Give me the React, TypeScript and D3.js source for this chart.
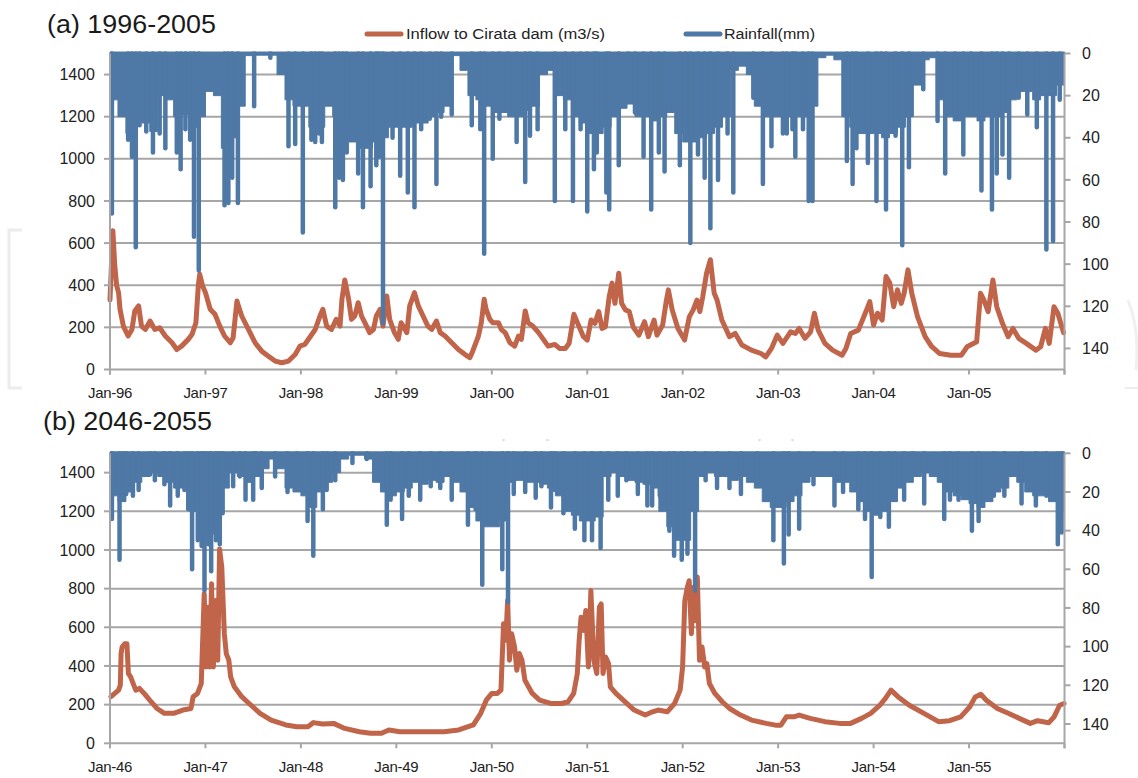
import React from 'react';
import * as d3 from 'd3';

// ---------- DATA ----------
const yearTicksA = [1996, 1997, 1998, 1999, 2000, 2001, 2002, 2003, 2004, 2005];
const yearTicksB = [2046, 2047, 2048, 2049, 2050, 2051, 2052, 2053, 2054, 2055];
const leftTicks = [0, 200, 400, 600, 800, 1000, 1200, 1400];
const rightTicks = [0, 20, 40, 60, 80, 100, 120, 140];

// Inflow to Cirata dam (m3/s), [decimal year, value]
const inflowA: [number, number][] = [
  [1996.0, 330], [1996.03, 659], [1996.05, 492], [1996.07, 397], [1996.09, 365], [1996.105, 286], [1996.14, 206],
  [1996.19, 159], [1996.23, 190], [1996.26, 278], [1996.3, 302], [1996.33, 206], [1996.37, 190], [1996.42, 230],
  [1996.47, 190], [1996.52, 198], [1996.58, 159], [1996.65, 127], [1996.7, 95], [1996.75, 111], [1996.82, 143],
  [1996.86, 167], [1996.9, 222], [1996.925, 397], [1996.94, 452], [1996.97, 397], [1997.0, 365], [1997.05, 286],
  [1997.1, 262], [1997.15, 206], [1997.2, 159], [1997.26, 127], [1997.29, 151], [1997.33, 325], [1997.345, 302],
  [1997.38, 254], [1997.45, 190], [1997.52, 127], [1997.59, 87], [1997.66, 63], [1997.73, 40], [1997.8, 32],
  [1997.87, 40], [1997.94, 71], [1997.99, 111], [1998.04, 119], [1998.09, 151], [1998.15, 190], [1998.2, 254],
  [1998.23, 286], [1998.27, 206], [1998.32, 190], [1998.37, 238], [1998.41, 206], [1998.43, 333], [1998.46, 425],
  [1998.5, 333], [1998.53, 238], [1998.565, 254], [1998.6, 317], [1998.635, 254], [1998.67, 222], [1998.72, 175],
  [1998.76, 190], [1998.79, 254], [1998.83, 286], [1998.86, 206], [1998.9, 349], [1998.93, 238], [1998.98, 175],
  [1999.02, 143], [1999.05, 222], [1999.11, 175], [1999.14, 302], [1999.19, 365], [1999.23, 302], [1999.28, 254],
  [1999.33, 206], [1999.37, 190], [1999.42, 230], [1999.46, 175], [1999.51, 159], [1999.58, 127], [1999.65, 95],
  [1999.72, 71], [1999.77, 56], [1999.8, 87], [1999.86, 159], [1999.89, 222], [1999.92, 333], [1999.94, 286],
  [1999.98, 238], [2000.01, 222], [2000.07, 222], [2000.1, 190], [2000.14, 175], [2000.19, 127], [2000.24, 111],
  [2000.28, 159], [2000.31, 143], [2000.35, 278], [2000.38, 222], [2000.43, 206], [2000.49, 175], [2000.54, 143],
  [2000.59, 111], [2000.66, 119], [2000.71, 100], [2000.77, 100], [2000.81, 124], [2000.86, 262], [2000.9, 219],
  [2000.96, 156], [2001.0, 140], [2001.04, 235], [2001.08, 219], [2001.12, 275], [2001.155, 195], [2001.19, 203],
  [2001.23, 346], [2001.26, 410], [2001.29, 314], [2001.33, 457], [2001.36, 314], [2001.4, 283], [2001.44, 275],
  [2001.48, 203], [2001.54, 163], [2001.6, 227], [2001.64, 156], [2001.7, 235], [2001.73, 163], [2001.79, 211],
  [2001.83, 330], [2001.85, 378], [2001.89, 283], [2001.95, 195], [2002.02, 140], [2002.07, 251], [2002.11, 283],
  [2002.15, 330], [2002.18, 275], [2002.21, 346], [2002.25, 457], [2002.29, 521], [2002.33, 362], [2002.36, 330],
  [2002.41, 235], [2002.49, 156], [2002.55, 171], [2002.62, 116], [2002.72, 92], [2002.82, 76], [2002.87, 60],
  [2002.93, 100], [2002.99, 163], [2003.05, 124], [2003.13, 179], [2003.18, 171], [2003.22, 195], [2003.28, 148],
  [2003.34, 179], [2003.38, 267], [2003.42, 187], [2003.49, 124], [2003.57, 92], [2003.67, 68], [2003.71, 100],
  [2003.76, 171], [2003.84, 187], [2003.92, 275], [2003.96, 322], [2004.0, 211], [2004.04, 267], [2004.09, 235],
  [2004.13, 441], [2004.17, 410], [2004.21, 298], [2004.25, 378], [2004.29, 314], [2004.32, 362], [2004.36, 473],
  [2004.4, 362], [2004.46, 251], [2004.54, 156], [2004.61, 108], [2004.69, 76], [2004.81, 68], [2004.92, 68],
  [2004.98, 108], [2005.08, 132], [2005.12, 362], [2005.155, 330], [2005.2, 275], [2005.25, 425], [2005.29, 298],
  [2005.35, 219], [2005.41, 156], [2005.46, 195], [2005.52, 148], [2005.6, 124], [2005.7, 92], [2005.75, 108],
  [2005.8, 195], [2005.84, 124], [2005.89, 298], [2005.93, 267], [2005.99, 175],
];

const inflowB: [number, number][] = [
  [2046.01, 241], [2046.05, 258], [2046.09, 275], [2046.108, 301], [2046.116, 464], [2046.127, 498], [2046.154, 515],
  [2046.177, 515], [2046.193, 361], [2046.216, 344], [2046.243, 309], [2046.27, 275], [2046.308, 284], [2046.358, 258],
  [2046.416, 223], [2046.493, 180], [2046.57, 155], [2046.667, 155], [2046.763, 172], [2046.848, 180], [2046.871, 241],
  [2046.917, 258], [2046.956, 309], [2046.987, 773], [2047.006, 395], [2047.025, 704], [2047.044, 395], [2047.064, 825],
  [2047.083, 395], [2047.11, 739], [2047.129, 430], [2047.148, 1005], [2047.171, 911], [2047.198, 567], [2047.218, 464],
  [2047.245, 430], [2047.264, 344], [2047.303, 292], [2047.38, 241], [2047.457, 206], [2047.572, 155], [2047.688, 120],
  [2047.842, 95], [2047.958, 86], [2048.073, 86], [2048.131, 107], [2048.227, 100], [2048.343, 103], [2048.459, 77],
  [2048.613, 60], [2048.728, 52], [2048.844, 52], [2048.921, 69], [2049.037, 60], [2049.152, 60], [2049.306, 60],
  [2049.499, 60], [2049.653, 69], [2049.807, 95], [2049.884, 155], [2049.942, 223], [2050.0, 258], [2050.058, 258],
  [2050.096, 275], [2050.123, 619], [2050.146, 533], [2050.166, 739], [2050.185, 430], [2050.208, 567], [2050.239, 498],
  [2050.262, 378], [2050.289, 464], [2050.316, 430], [2050.347, 326], [2050.424, 258], [2050.501, 223], [2050.617, 206],
  [2050.732, 206], [2050.8, 215], [2050.858, 258], [2050.896, 361], [2050.915, 532], [2050.935, 652], [2050.962, 584],
  [2050.985, 687], [2051.012, 395], [2051.038, 790], [2051.069, 429], [2051.1, 361], [2051.127, 704], [2051.146, 721],
  [2051.165, 361], [2051.192, 446], [2051.223, 412], [2051.242, 292], [2051.3, 258], [2051.377, 223], [2051.492, 172],
  [2051.607, 146], [2051.684, 163], [2051.742, 172], [2051.838, 163], [2051.915, 206], [2051.973, 275], [2051.999, 395],
  [2052.022, 738], [2052.049, 807], [2052.068, 841], [2052.091, 567], [2052.114, 807], [2052.137, 635], [2052.153, 860],
  [2052.176, 429], [2052.203, 498], [2052.23, 395], [2052.253, 412], [2052.28, 309], [2052.337, 258], [2052.414, 215],
  [2052.491, 180], [2052.606, 146], [2052.721, 120], [2052.875, 103], [2052.971, 94], [2053.029, 94], [2053.086, 137],
  [2053.163, 137], [2053.221, 146], [2053.336, 129], [2053.49, 112], [2053.644, 103], [2053.759, 103], [2053.874, 129],
  [2053.97, 155], [2054.066, 197], [2054.124, 232], [2054.182, 275], [2054.258, 240], [2054.374, 197], [2054.527, 155],
  [2054.681, 112], [2054.796, 117], [2054.912, 137], [2055.008, 189], [2055.065, 240], [2055.123, 254], [2055.181, 223],
  [2055.296, 180], [2055.411, 155], [2055.526, 129], [2055.642, 103], [2055.718, 117], [2055.834, 106], [2055.891, 137],
  [2055.949, 197], [2055.995, 206],
];

// Rainfall (mm): monthly envelope of the dense daily record (Jan..Dec per row)
const rainBaseA = [
  22, 30, 38, 32, 33, 37, 20, 22, 30, 29, 35, 30,
  18, 20, 45, 40, 25, 1, 0, 0, 0, 10, 22, 25,
  25, 35, 35, 25, 30, 30, 42, 45, 45, 42, 40, 35,
  35, 35, 33, 33, 30, 28, 25, 1, 8, 20, 22, 25,
  28, 28, 30, 30, 27, 25, 10, 8, 20, 22, 30, 33,
  38, 38, 35, 30, 26, 24, 30, 30, 32, 30, 28, 38,
  42, 42, 40, 38, 35, 30, 8, 6, 10, 25, 30, 30,
  30, 30, 30, 30, 25, 2, 0, 3, 30, 35, 38, 38,
  38, 40, 38, 35, 30, 15, 3, 2, 22, 30, 32, 30,
  30, 32, 30, 30, 28, 22, 18, 18, 22, 20, 20, 15,
];
const rainBaseB = [
  22, 25, 20, 15, 12, 10, 12, 15, 18, 18, 30, 40,
  42, 40, 18, 10, 12, 15, 12, 8, 3, 8, 18, 20,
  22, 28, 20, 15, 10, 3, 1, 1, 3, 15, 20, 22,
  20, 18, 15, 16, 14, 15, 12, 15, 20, 28, 35, 38,
  38, 35, 15, 14, 15, 15, 16, 18, 22, 30, 32, 35,
  35, 33, 12, 10, 12, 14, 15, 16, 18, 30, 38, 45,
  45, 30, 12, 10, 12, 12, 14, 12, 15, 18, 25, 28,
  28, 25, 22, 15, 12, 12, 12, 15, 15, 20, 25, 30,
  32, 30, 25, 18, 15, 12, 10, 12, 15, 20, 22, 24,
  26, 28, 25, 20, 18, 12, 15, 20, 22, 22, 25, 30,
];

// Rainfall (mm) daily peaks, [decimal year, mm]
const rainPeaksA: [number, number][] = [
  [1996.02, 76], [1996.19, 41], [1996.23, 49], [1996.27, 92], [1996.31, 34], [1996.38, 37], [1996.45, 47], [1996.52, 38],
  [1996.58, 45], [1996.7, 47], [1996.74, 55], [1996.79, 36], [1996.84, 41], [1996.88, 87], [1996.93, 103],
  [1997.2, 72], [1997.24, 71], [1997.28, 59], [1997.34, 71], [1997.51, 25], [1997.68, 2], [1997.87, 44], [1997.94, 43],
  [1998.02, 85], [1998.11, 41], [1998.15, 42], [1998.19, 38], [1998.22, 42], [1998.36, 73], [1998.4, 59], [1998.44, 60],
  [1998.48, 47], [1998.6, 57], [1998.65, 73], [1998.73, 63], [1998.79, 53], [1998.82, 49], [1998.86, 128], [1998.96, 40],
  [1999.04, 58], [1999.12, 66], [1999.19, 73], [1999.26, 36], [1999.35, 31], [1999.42, 62], [1999.47, 30], [1999.58, 29],
  [1999.79, 34], [1999.88, 36], [1999.92, 95],
  [2000.01, 50], [2000.08, 31], [2000.17, 27], [2000.26, 42], [2000.35, 61], [2000.4, 39], [2000.48, 36], [2000.66, 70],
  [2000.77, 36], [2000.85, 70], [2000.93, 36],
  [2001.0, 75], [2001.07, 55], [2001.1, 47], [2001.2, 66], [2001.23, 74], [2001.33, 53], [2001.43, 22], [2001.5, 28],
  [2001.59, 49], [2001.67, 74], [2001.75, 47], [2001.81, 56], [2001.97, 53],
  [2002.03, 38], [2002.08, 90], [2002.16, 48], [2002.23, 59], [2002.29, 83], [2002.37, 60], [2002.47, 38], [2002.53, 66],
  [2002.74, 21], [2002.84, 62], [2002.93, 44],
  [2003.05, 38], [2003.09, 38], [2003.15, 36], [2003.18, 49], [2003.26, 36], [2003.32, 70], [2003.36, 70], [2003.72, 51],
  [2003.78, 62], [2003.82, 45], [2003.94, 52],
  [2004.03, 70], [2004.08, 30], [2004.13, 74], [2004.23, 39], [2004.3, 91], [2004.37, 54], [2004.52, 17], [2004.67, 32],
  [2004.75, 57], [2004.85, 29], [2004.94, 48],
  [2005.02, 28], [2005.13, 65], [2005.24, 74], [2005.29, 57], [2005.35, 48], [2005.42, 59], [2005.52, 21], [2005.61, 29],
  [2005.71, 35], [2005.81, 93], [2005.88, 89], [2005.95, 22],
];

const rainPeaksB: [number, number][] = [
  [2046.02, 34], [2046.1, 55], [2046.14, 24], [2046.17, 21], [2046.24, 22], [2046.3, 19], [2046.42, 11], [2046.47, 14],
  [2046.57, 16], [2046.63, 27], [2046.71, 22], [2046.78, 19], [2046.82, 29], [2046.86, 60], [2046.92, 45], [2046.96, 48],
  [2046.99, 71],
  [2047.03, 47], [2047.06, 61], [2047.11, 45], [2047.15, 47], [2047.18, 31], [2047.29, 17], [2047.36, 12], [2047.42, 24],
  [2047.5, 24], [2047.53, 10], [2047.59, 18], [2047.73, 12], [2047.86, 20], [2047.96, 12],
  [2048.07, 35], [2048.13, 53], [2048.23, 29], [2048.27, 19], [2048.36, 14], [2048.54, 5], [2048.69, 3], [2048.9, 37],
  [2048.94, 24],
  [2049.06, 34], [2049.13, 22], [2049.25, 24], [2049.36, 17], [2049.46, 18], [2049.58, 24], [2049.75, 37], [2049.83, 29],
  [2049.9, 68], [2049.98, 34],
  [2050.11, 60], [2050.17, 77], [2050.23, 21], [2050.35, 20], [2050.46, 23], [2050.52, 17], [2050.62, 28], [2050.66, 19],
  [2050.75, 31], [2050.87, 39], [2050.97, 45],
  [2051.05, 45], [2051.14, 49], [2051.22, 24], [2051.32, 22], [2051.41, 14], [2051.53, 21], [2051.63, 27], [2051.68, 27],
  [2051.76, 22], [2051.86, 40], [2051.91, 53], [2051.99, 55],
  [2052.05, 52], [2052.13, 71], [2052.24, 14], [2052.36, 18], [2052.49, 18], [2052.61, 21], [2052.78, 15], [2052.95, 45],
  [2053.06, 57], [2053.11, 42], [2053.22, 39], [2053.37, 16], [2053.59, 27], [2053.68, 20], [2053.84, 29], [2053.91, 34],
  [2053.98, 64],
  [2054.07, 33], [2054.16, 38], [2054.22, 22], [2054.32, 24], [2054.41, 10], [2054.53, 26], [2054.74, 34], [2054.8, 24],
  [2054.89, 24],
  [2055.03, 40], [2055.1, 35], [2055.26, 22], [2055.37, 22], [2055.55, 26], [2055.7, 27], [2055.81, 22], [2055.93, 47],
  [2055.97, 41],
];

// ---------- STYLE ----------
const BLUE = '#4e78a5';
const ORANGE = '#c0644a';
const GRID = '#a6a6a6';
const TEXT = '#222222';
const FONT = '"Liberation Sans", Arial, Helvetica, sans-serif';
const X0 = 110;
const X1 = 1064.5;

type PanelProps = {
  top: number;
  bottom: number;
  startYear: number;
  years: number[];
  inflow: [number, number][];
  base: number[];
  peaks: [number, number][];
  title: string;
  titleX: number;
  titleY: number;
};

function Panel(p: PanelProps) {
  const x = d3.scaleLinear().domain([p.startYear, p.startYear + 10]).range([X0, X1]);
  const yL = d3.scaleLinear().domain([0, 1500]).range([p.bottom, p.top]);
  const yR = d3.scaleLinear().domain([0, 150]).range([p.top, p.bottom]);

  const inflowPath = d3
    .line<[number, number]>()
    .x((d) => x(d[0]))
    .y((d) => yL(d[1]))
    .curve(d3.curveLinear)(p.inflow) as string;

  const baseData: [number, number][] = p.base.map((v, i) => [p.startYear + i / 12, v]);
  baseData.push([p.startYear + 10, p.base[p.base.length - 1]]);
  const baseArea = d3
    .area<[number, number]>()
    .x((d) => x(d[0]))
    .y0(yR(0) - 1.5)
    .y1((d) => yR(Math.max(d[1], 0.8)))
    .curve(d3.curveStepAfter)(baseData) as string;

  const lastTick = p.startYear + 10;
  const tickYears = [...p.years, lastTick];

  return (
    <g>
      <text x={p.titleX} y={p.titleY} fontSize={26} fill="#1a1a1a" fontFamily={FONT}
        textLength={169} lengthAdjust="spacingAndGlyphs">{p.title}</text>
      {leftTicks.filter((v) => v > 0).map((v) => (
        <line key={'g' + v} x1={X0} x2={X1} y1={yL(v)} y2={yL(v)} stroke={GRID} strokeWidth={2} />
      ))}
      <path d={inflowPath} fill="none" stroke={ORANGE} strokeWidth={5} strokeLinejoin="round" strokeLinecap="round" />
      <path d={baseArea} fill={BLUE} stroke={BLUE} strokeWidth={1} />
      {p.peaks.map((d, i) => (
        <line key={'r' + i} x1={x(d[0])} x2={x(d[0])} y1={yR(0)} y2={yR(d[1])}
          stroke={BLUE} strokeWidth={4.5} strokeLinecap="round" />
      ))}
      {/* axes */}
      <line x1={X0} x2={X0} y1={p.top} y2={p.bottom + 5} stroke={GRID} strokeWidth={2} />
      <line x1={X1} x2={X1} y1={p.top} y2={p.bottom + 5} stroke={GRID} strokeWidth={2} />
      <line x1={X0} x2={X1} y1={p.bottom} y2={p.bottom} stroke={GRID} strokeWidth={2} />
      {tickYears.map((t) => (
        <line key={'xt' + t} x1={x(t)} x2={x(t)} y1={p.bottom} y2={p.bottom + 5} stroke={GRID} strokeWidth={2} />
      ))}
      {p.years.map((t) => (
        <text key={'xl' + t} x={x(t)} y={p.bottom + 28.5} fontSize={15} textAnchor="middle" fill={TEXT}
          fontFamily={FONT} letterSpacing={-0.3}>
          {'Jan-' + String(t % 100).padStart(2, '0')}
        </text>
      ))}
      {leftTicks.map((v) => (
        <g key={'lt' + v}>
          <line x1={X0 - 6} x2={X0} y1={yL(v)} y2={yL(v)} stroke={GRID} strokeWidth={2} />
          <text x={95} y={yL(v)} dy="0.35em" fontSize={16} textAnchor="end" fill={TEXT} fontFamily={FONT}>{v}</text>
        </g>
      ))}
      {rightTicks.map((v) => (
        <g key={'rt' + v}>
          <line x1={X1} x2={X1 + 6} y1={yR(v)} y2={yR(v)} stroke={GRID} strokeWidth={2} />
          <text x={1082} y={yR(v)} dy="0.35em" fontSize={16} textAnchor="start" fill={TEXT} fontFamily={FONT}>{v}</text>
        </g>
      ))}
    </g>
  );
}

export default function App() {
  return (
    <svg width={1138} height={778} viewBox="0 0 1138 778"
      style={{ position: 'absolute', left: 0, top: 0, background: '#ffffff' }}>
      <rect x={0} y={0} width={1138} height={778} fill="#ffffff" />
      {/* faint watermark remnants */}
      <path d="M22 230 L9 230 L9 388 L22 388" fill="none" stroke="#ececec" strokeWidth={3} />
      <path d="M1128 300 Q1140 330 1136 370" fill="none" stroke="#f0f0f0" strokeWidth={3} />
      <line x1={1125} x2={1138} y1={388} y2={388} stroke="#eeeeee" strokeWidth={2} />

      <Panel top={53.5} bottom={369.5} startYear={1996} years={yearTicksA} inflow={inflowA}
        base={rainBaseA} peaks={rainPeaksA} title="(a) 1996-2005" titleX={47} titleY={33} />
      <Panel top={453.3} bottom={743.3} startYear={2046} years={yearTicksB} inflow={inflowB}
        base={rainBaseB} peaks={rainPeaksB} title="(b) 2046-2055" titleX={43} titleY={430} />

      {/* legend */}
      <line x1={367} x2={401} y1={34} y2={34} stroke={ORANGE} strokeWidth={5} strokeLinecap="round" />
      <text x={406} y={39} fontSize={15.5} fill={TEXT} fontFamily={FONT} textLength={199} lengthAdjust="spacingAndGlyphs">
        Inflow to Cirata dam (m3/s)
      </text>
      <line x1={686} x2={720} y1={34} y2={34} stroke={BLUE} strokeWidth={5} strokeLinecap="round" />
      <text x={724} y={39} fontSize={15.5} fill={TEXT} fontFamily={FONT} textLength={91} lengthAdjust="spacingAndGlyphs">
        Rainfall(mm)
      </text>

      {/* hidden-legend remnants in panel (b) */}
      {[502, 546, 758, 791].map((v) => (
        <line key={'m' + v} x1={v} x2={v + 3} y1={440} y2={440} stroke="#c8c8c8" strokeWidth={1} />
      ))}
    </svg>
  );
}
